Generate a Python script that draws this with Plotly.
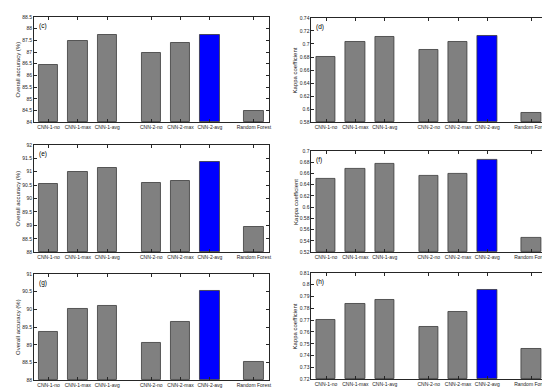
import plotly.graph_objects as go

categories = ["CNN-1-no", "CNN-1-max", "CNN-1-avg", "CNN-2-no", "CNN-2-max", "CNN-2-avg", "Random Forest"]
positions = [1, 2, 3, 4.5, 5.5, 6.5, 8]

oa_c = [86.45, 87.48, 87.73, 86.95, 87.41, 87.73, 84.47]
kappa_d = [0.680, 0.703, 0.711, 0.691, 0.703, 0.712, 0.594]
oa_e = [90.55, 90.98, 91.15, 90.60, 90.65, 91.37, 88.95]
kappa_f = [0.650, 0.668, 0.677, 0.655, 0.660, 0.684, 0.546]
oa_g = [89.37, 90.00, 90.10, 89.05, 89.65, 90.51, 88.53]
kappa_h = [0.770, 0.784, 0.787, 0.764, 0.777, 0.796, 0.746]

panel_labels = ["(c)", "(d)", "(e)", "(f)", "(g)", "(h)"]
y_titles = ["Overall accuracy (%)", "Kappa coefficient"] * 3
y_ranges = [(84, 88.5), (0.58, 0.74), (88, 92), (0.52, 0.70), (88, 91), (0.72, 0.81)]
y_dticks = [0.5, 0.02, 0.5, 0.02, 0.5, 0.01]
series = [oa_c, kappa_d, oa_e, kappa_f, oa_g, kappa_h]

W, H = 550, 389
# pixel boxes (left, right, top, bottom)
boxes = [
    (26, 262, 6, 113), (305, 541, 7, 113),
    (26, 262, 136, 245), (305, 541, 142, 245),
    (26, 262, 267, 375), (305, 541, 266, 374),
]

GRAY = "#808080"
BLUE = "#0000ff"
colors = [GRAY] * 5 + [BLUE, GRAY]
XFONT = dict(family="Liberation Sans, Arial", size=5, color="#222222")
YFONT = dict(family="Liberation Sans, Arial", size=5, color="#222222")

fig = go.Figure()
layout = dict(width=W, height=H, margin=dict(l=0, r=0, t=0, b=0),
              paper_bgcolor="white", plot_bgcolor="white", showlegend=False)
annotations = []
for i, vals in enumerate(series):
    n = i + 1
    xa = "x" if n == 1 else f"x{n}"
    ya = "y" if n == 1 else f"y{n}"
    l, r, t, b = boxes[i]
    y0 = y_ranges[i][0]
    fig.add_trace(go.Bar(x=positions, y=[v - y0 for v in vals], base=y0, width=0.66,
                         xaxis=xa, yaxis=ya, hovertext=categories,
                         marker=dict(color=colors, line=dict(color="#3a3a3a", width=0.8))))
    axis_common = dict(showline=True, linecolor="#262626", linewidth=0.8, mirror="allticks",
                       ticks="inside", ticklen=3, tickcolor="#262626", tickwidth=0.6,
                       showgrid=False, zeroline=False)
    layout["xaxis" if n == 1 else f"xaxis{n}"] = dict(
        domain=[l / W, r / W], anchor=ya, range=[0.5, 8.5],
        tickmode="array", tickvals=positions, ticktext=categories, tickangle=0,
        tickfont=XFONT, **axis_common)
    layout["yaxis" if n == 1 else f"yaxis{n}"] = dict(
        domain=[1 - b / H, 1 - t / H], anchor=xa, range=list(y_ranges[i]),
        tickmode="linear", tick0=y0, dtick=y_dticks[i],
        tickfont=YFONT, **axis_common)
    annotations.append(dict(text=panel_labels[i], xref="paper", yref="paper",
                            x=(l + 3) / W, y=1 - (t + 9) / H, xanchor="left", yanchor="middle",
                            showarrow=False, font=dict(family="Liberation Sans, Arial", size=6.5, color="#000000")))
    tx = 10 if l < 100 else 289
    annotations.append(dict(text=y_titles[i], xref="paper", yref="paper",
                            x=tx / W, y=1 - ((t + b) / 2) / H, xanchor="center", yanchor="middle",
                            textangle=-90, showarrow=False,
                            font=dict(family="Liberation Sans, Arial", size=6, color="#222222")))

layout["annotations"] = annotations
layout["bargap"] = 0
fig.update_layout(**layout)
fig.write_html("out.html")
